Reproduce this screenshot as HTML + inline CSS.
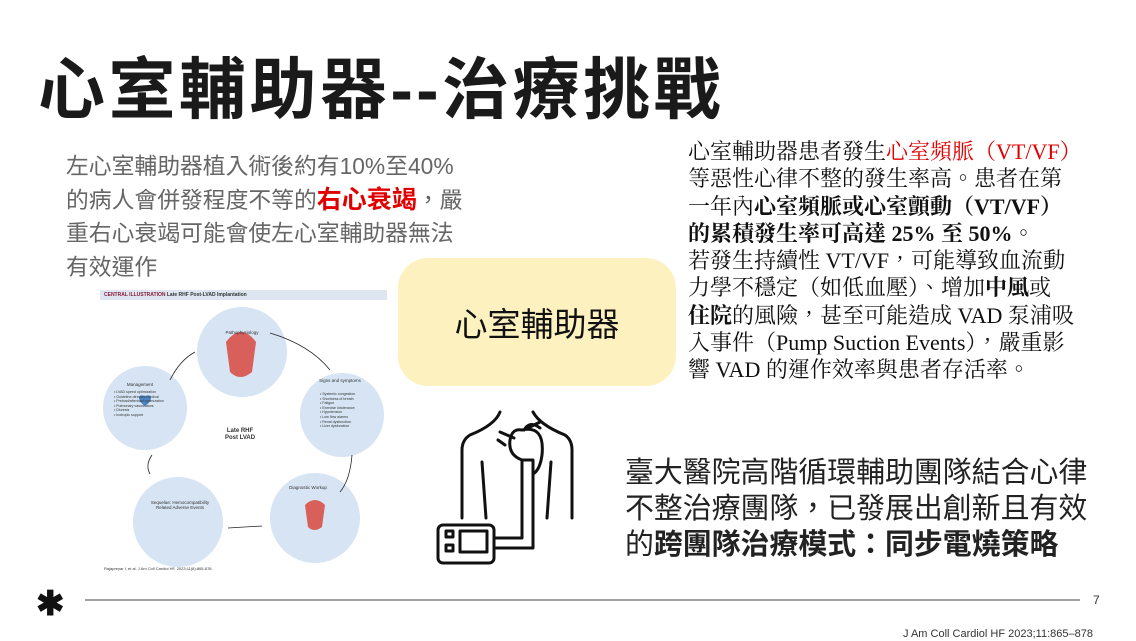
<!DOCTYPE html>
<html><head><meta charset="utf-8"><style>
body{margin:0;width:1136px;height:641px;background:#fff;position:relative;overflow:hidden;font-family:"Liberation Sans","Noto Sans CJK TC",sans-serif}
.a{position:absolute;white-space:nowrap}
.title{left:38px;top:36px;font-size:67px;font-weight:bold;color:#1a1a1a;letter-spacing:3.5px}
.left{left:66px;top:150px;font-size:22.8px;color:#666;line-height:33.5px}
.right{left:688px;top:138px;font-size:22px;color:#111;line-height:27.3px;font-family:"Liberation Serif","Noto Serif CJK TC",serif}
.red{color:#e00000}
.bot{left:625px;top:455px;font-size:28.9px;color:#222;line-height:36px}
.box{left:398px;top:258px;width:278px;height:128px;background:#fdf1c0;border-radius:30px;font-size:33px;color:#111;display:flex;align-items:center;justify-content:center}
.c{position:absolute;border-radius:50%;background:#d6e4f3}
.t{position:absolute;font-size:4.5px;color:#333;text-align:center;line-height:5px}
.l{position:absolute;font-size:3.6px;color:#333;line-height:4.6px;white-space:nowrap}
</style></head><body>
<div class="a title">心室輔助器--治療挑戰</div>
<div class="a left">左心室輔助器植入術後約有10%至40%<br>的病人會併發程度不等的<b class="red" style="font-size:25px">右心衰竭</b>，嚴<br>重右心衰竭可能會使左心室輔助器無法<br>有效運作</div>
<div class="a right">心室輔助器患者發生<span class="red">心室頻脈（VT/VF）</span><br>等惡性心律不整的發生率高。患者在第<br>一年內<b>心室頻脈或心室顫動（VT/VF）<br>的累積發生率可高達 25% 至 50%</b>。<br>若發生持續性 VT/VF，可能導致血流動<br>力學不穩定（如低血壓）、增加<b>中風</b>或<br><b>住院</b>的風險，甚至可能造成 VAD 泵浦吸<br>入事件（Pump Suction Events），嚴重影<br>響 VAD 的運作效率與患者存活率。</div>
<div class="a box">心室輔助器</div>
<div class="a bot">臺大醫院高階循環輔助團隊結合心律<br>不整治療團隊，已發展出創新且有效<br>的<b>跨團隊治療模式：同步電燒策略</b></div>

<div class="a" style="left:100px;top:290px;width:287px;height:10px;background:#dde6f0"></div>
<div class="a" style="left:104px;top:290px;font-size:5px;line-height:10px;color:#8a1b3a;font-weight:bold">CENTRAL ILLUSTRATION <span style="color:#333">Late RHF Post-LVAD Implantation</span></div>
<div class="c" style="left:197px;top:307px;width:90px;height:90px"></div>
<div class="c" style="left:103px;top:366px;width:84px;height:84px"></div>
<div class="c" style="left:300px;top:373px;width:84px;height:84px"></div>
<div class="c" style="left:270px;top:473px;width:90px;height:90px"></div>
<div class="c" style="left:133px;top:477px;width:90px;height:90px"></div>
<svg class="a" style="left:0;top:0" width="1136" height="641">
<g fill="none" stroke="#222" stroke-width="0.8">
<path d="M170 380 Q180 360 195 352"/><path d="M270 333 Q310 345 330 370"/><path d="M352 455 Q350 480 340 492"/><path d="M262 526 L228 528"/><path d="M150 474 Q145 465 152 455"/>
</g>
<path d="M226 342 q15 -20 30 0 l-4 30 q-12 10 -22 0 z" fill="#d9605a"/>
<path d="M305 505 q10 -10 20 0 l-3 22 q-8 6 -14 0z" fill="#d9605a"/>
<path d="M145 406 q-6 -4 -6 -8 q0 -4 6 -2 q6 -2 6 2 q0 4 -6 8z" fill="#4a86c5"/>
<g fill="none" stroke="#111" stroke-width="3" stroke-linecap="round" stroke-linejoin="round">
<path d="M500 412 Q495 425 470 435 Q462 440 462 450 L462 518"/>
<path d="M533 412 Q540 425 565 435 Q572 440 572 450 L572 518"/>
<path d="M482 462 L486 518"/><path d="M551 462 L547 518"/>
<path d="M522 460 Q508 455 510 440 Q512 428 522 430 M514 438 L500 432 M505 445 L498 440 M524 430 Q530 420 540 428 M528 428 L540 422 M522 430 Q545 425 542 455 Q540 470 533 474"/>
<rect x="438" y="525" width="56" height="38" rx="5"/>
<rect x="460" y="531" width="27" height="21"/>
<rect x="446" y="531" width="7" height="6"/><rect x="446" y="545" width="7" height="6"/>
<path d="M494 538 L522 538 L522 460 L533 460 L533 548 L494 548"/>
</g>
<line x1="85" y1="600" x2="1080" y2="600" stroke="#444" stroke-width="1"/>
</svg>
<div class="t" style="left:202px;top:330px;width:80px">Pathophysiology</div>
<div class="t" style="left:310px;top:378px;width:60px">Signs and symptoms</div>
<div class="l" style="left:320px;top:392px">• Systemic congestion<br>• Shortness of breath<br>• Fatigue<br>• Exercise intolerance<br>• Hypotension<br>• Low flow alarms<br>• Renal dysfunction<br>• Liver dysfunction</div>
<div class="t" style="left:110px;top:382px;width:60px">Management</div>
<div class="l" style="left:114px;top:390px">• LVAD speed optimization<br>• Guideline-directed medical<br>• Preload/afterload optimization<br>• Pulmonary vasodilators<br>• Diuresis<br>• Inotropic support</div>
<div class="t" style="left:278px;top:485px;width:60px">Diagnostic Workup</div>
<div class="t" style="left:145px;top:500px;width:70px">Sequelae: Hemocompatibility Related Adverse Events</div>
<div class="t" style="left:215px;top:428px;width:50px;font-size:6px;line-height:7px;font-weight:bold">Late RHF<br>Post LVAD</div>
<div class="a" style="left:104px;top:566px;font-size:4px;color:#333">Rajapreyar I, et al. J Am Coll Cardiol HF. 2023;11(8):865-878.</div>
<div class="a" style="left:36px;top:584px;font-size:34px;font-weight:bold;color:#111">✱</div>
<div class="a" style="left:1093px;top:593px;font-size:12px;color:#333">7</div>
<div class="a" style="left:903px;top:628px;font-size:11px;color:#333">J Am Coll Cardiol HF 2023;11:865–878</div>
</body></html>
